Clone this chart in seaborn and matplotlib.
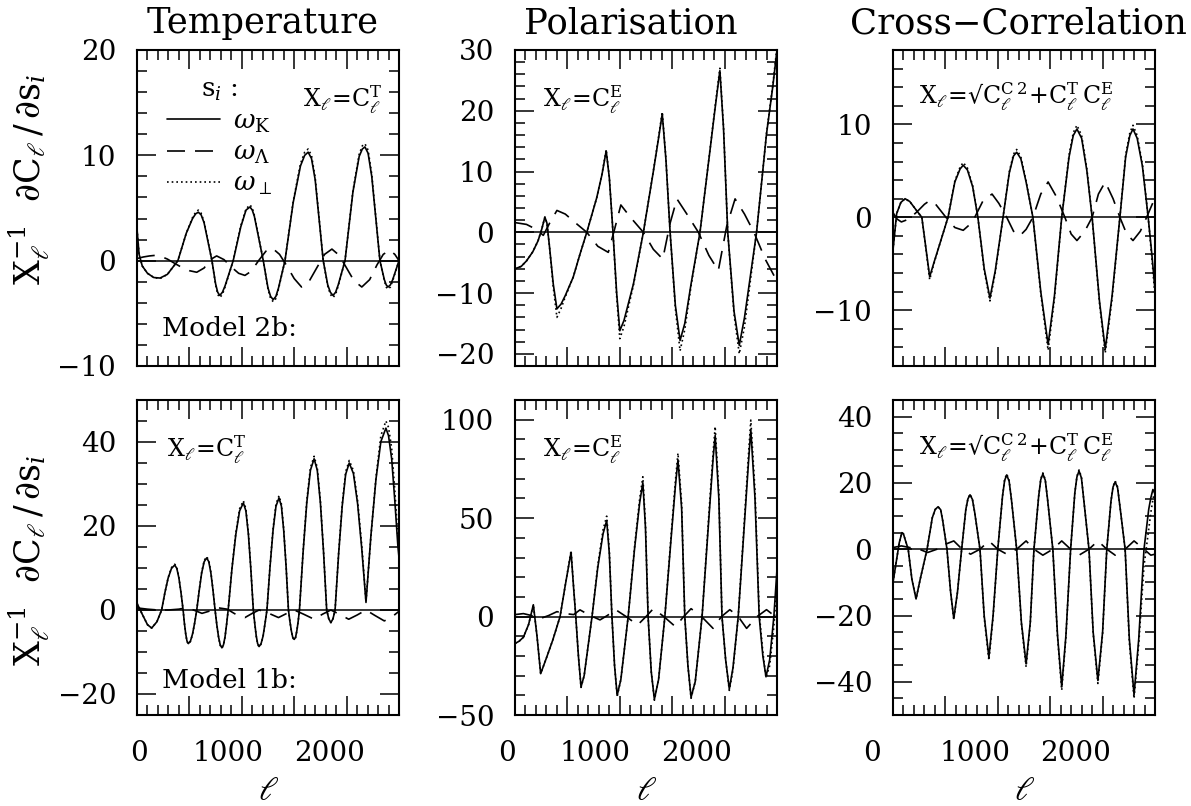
import matplotlib
matplotlib.use("Agg")
import matplotlib.pyplot as plt
import matplotlib.transforms as mtrans
from matplotlib.ticker import MultipleLocator
import seaborn as sns

# ---------------- data ----------------
# Top-left: Temperature, Model 2b
TL_lK = [0, 20, 50, 100, 160, 220, 290, 390, 470, 530, 560, 585, 612, 640, 715, 750, 770, 790, 815, 840, 918, 990, 1040, 1078, 1100, 1120, 1205, 1250, 1275, 1300, 1325, 1350, 1412, 1490, 1560, 1600, 1633, 1665, 1700, 1777, 1820, 1845, 1870, 1895, 1920, 1985, 2060, 2120, 2150, 2175, 2205, 2240, 2318, 2360, 2378, 2395, 2418, 2440, 2500]
TL_K = [3.0, 0.6, -0.5, -1.2, -1.6, -1.65, -1.3, 0.0, 2.6, 4.0, 4.45, 4.6, 4.35, 3.6, 0.0, -2.2, -3.0, -3.3, -3.0, -2.4, 0.0, 3.2, 4.8, 5.1, 4.8, 4.2, 0.0, -2.6, -3.4, -3.7, -3.4, -2.6, 0.0, 5.5, 9.0, 10.0, 10.3, 9.7, 7.7, 0.0, -2.3, -3.0, -3.3, -3.0, -2.3, 0.0, 6.5, 9.9, 10.6, 10.8, 10.2, 8.0, 0.0, -1.8, -2.3, -2.5, -2.3, -1.8, 0.0]
TL_P = [3.0, 0.6, -0.5, -1.2, -1.6, -1.7, -1.3, 0.0, 2.6, 4.1, 4.6, 4.8, 4.5, 3.7, 0.0, -2.3, -3.2, -3.5, -3.2, -2.5, 0.0, 3.3, 4.9, 5.3, 5.0, 4.3, 0.0, -2.7, -3.6, -3.9, -3.6, -2.7, 0.0, 5.6, 9.2, 10.3, 10.6, 10.0, 7.9, 0.0, -2.4, -3.2, -3.5, -3.2, -2.4, 0.0, 6.6, 10.1, 10.9, 11.1, 10.5, 8.2, 0.0, -1.9, -2.5, -2.7, -2.5, -1.9, 0.0]
TL_lL = [0, 60, 120, 170, 230, 290, 350, 420, 500, 570, 640, 700, 760, 830, 900, 970, 1030, 1090, 1160, 1230, 1290, 1360, 1430, 1500, 1570, 1640, 1720, 1790, 1860, 1930, 2000, 2070, 2145, 2220, 2290, 2350, 2410, 2460, 2500]
TL_L = [0.2, 0.35, 0.45, 0.5, 0.4, 0.15, -0.2, -0.6, -0.95, -1.1, -0.7, 0.1, 0.45, 0.1, -0.6, -1.2, -1.4, -1.0, 0.0, 0.9, 1.2, 0.6, -0.5, -1.7, -2.5, -2.0, -0.6, 0.6, 1.1, 0.5, -0.7, -1.9, -2.5, -1.8, -0.4, 0.6, 1.0, 0.6, 0.0]

# Top-middle: Polarisation, Model 2b
TM_lK = [0, 60, 110, 170, 220, 255, 285, 305, 330, 365, 400, 440, 480, 555, 620, 685, 780, 830, 870, 900, 935, 970, 1000, 1040, 1130, 1225, 1320, 1370, 1405, 1440, 1480, 1530, 1575, 1620, 1680, 1765, 1860, 1910, 1955, 1990, 2030, 2090, 2140, 2190, 2305, 2400, 2460, 2500]
TM_K = [-6.0, -5.6, -4.7, -3.2, -1.4, 0.5, 2.5, 1.5, -2.5, -8.5, -12.6, -11.8, -10.4, -7.4, -3.6, 0.0, 5.7, 9.5, 13.4, 9.0, 0.0, -10.0, -16.2, -14.5, -8.5, 0.0, 10.0, 15.5, 19.5, 12.0, 0.0, -12.0, -17.8, -15.0, -8.5, 0.0, 13.4, 20.5, 26.6, 17.0, 0.0, -13.0, -18.6, -14.0, 0.0, 16.2, 24.0, 30.0]
TM_P = [-6.0, -5.6, -4.7, -3.2, -1.4, 0.5, 2.5, 1.5, -2.5, -9.0, -14.0, -12.5, -10.6, -7.4, -3.6, 0.0, 5.7, 9.6, 13.6, 9.1, 0.0, -10.5, -17.5, -15.5, -8.7, 0.0, 10.1, 15.7, 19.8, 12.2, 0.0, -12.5, -19.5, -16.0, -8.8, 0.0, 13.5, 20.8, 27.0, 17.3, 0.0, -13.5, -20.0, -15.5, 0.0, 16.3, 24.2, 30.5]
TM_lL = [0, 110, 200, 270, 330, 400, 480, 560, 685, 790, 890, 950, 1010, 1100, 1225, 1320, 1410, 1480, 1545, 1640, 1750, 1850, 1940, 2020, 2100, 2190, 2280, 2390, 2480, 2500]
TM_L = [1.6, 1.3, 0.5, -0.5, 1.5, 3.6, 3.0, 1.8, 0.0, -2.3, -3.3, 0.5, 4.5, 2.5, 0.0, -2.8, -4.4, 1.5, 5.5, 3.0, 0.0, -3.8, -6.3, 1.0, 5.5, 3.0, 0.0, -4.5, -7.4, -7.6]

# Top-right: Cross-correlation, Model 2b
TR_lK = [0, 35, 75, 115, 160, 220, 275, 315, 350, 390, 440, 525, 590, 640, 670, 710, 760, 810, 870, 925, 975, 1050, 1110, 1150, 1180, 1220, 1270, 1335, 1410, 1480, 1540, 1610, 1680, 1720, 1755, 1800, 1850, 1900, 1970, 2025, 2090, 2165, 2220, 2260, 2290, 2330, 2380, 2435, 2470, 2500]
TR_K = [-3.5, 0.4, 1.6, 2.0, 1.7, 0.8, 0.0, -3.4, -6.4, -4.9, -3.1, 0.0, 3.8, 5.2, 5.6, 5.1, 3.3, 0.0, -5.5, -8.7, -5.8, 0.0, 4.8, 6.6, 7.0, 6.3, 3.8, 0.0, -8.0, -13.7, -8.5, 0.0, 6.5, 8.8, 9.5, 8.5, 5.0, 0.0, -9.0, -14.2, -8.5, 0.0, 6.5, 8.8, 9.5, 8.5, 5.5, 0.0, -4.0, -7.8]
TR_P = [-3.5, 0.4, 1.6, 2.0, 1.7, 0.8, 0.0, -3.5, -6.7, -5.0, -3.1, 0.0, 3.9, 5.4, 5.9, 5.3, 3.4, 0.0, -5.7, -9.0, -6.0, 0.0, 4.9, 6.8, 7.3, 6.5, 3.9, 0.0, -8.2, -14.3, -8.8, 0.0, 6.7, 9.1, 9.9, 8.8, 5.2, 0.0, -9.2, -14.6, -8.8, 0.0, 6.7, 9.1, 9.9, 8.8, 5.7, 0.0, -4.4, -8.5]
TR_lL = [0, 40, 80, 150, 230, 300, 350, 400, 505, 590, 670, 730, 780, 860, 945, 1010, 1085, 1150, 1210, 1270, 1335, 1410, 1480, 1560, 1640, 1700, 1755, 1830, 1900, 1960, 2025, 2100, 2165, 2230, 2290, 2360, 2420, 2500]
TR_L = [0.5, -0.2, -0.5, -0.2, 0.6, 1.4, 1.8, 1.5, 0.0, -1.1, -1.4, -0.8, 0.0, 1.8, 2.5, 1.5, 0.0, -1.5, -2.0, -1.3, 0.0, 2.5, 3.8, 2.2, 0.0, -1.8, -2.5, -1.5, 0.0, 2.5, 3.8, 2.0, 0.0, -1.8, -2.5, -1.5, 0.0, 2.1]

# Bottom-left: Temperature, Model 1b
BL_lK = [0, 50, 100, 140, 190, 235, 266, 297, 329, 360, 380, 400, 420, 440, 452, 465, 477, 490, 510, 530, 550, 570, 594, 617, 641, 665, 685, 705, 725, 745, 761, 778, 794, 810, 825, 840, 855, 870, 906, 943, 979, 1015, 1039, 1063, 1086, 1110, 1124, 1138, 1151, 1165, 1184, 1203, 1221, 1240, 1269, 1298, 1326, 1355, 1378, 1400, 1423, 1445, 1459, 1473, 1486, 1500, 1513, 1525, 1538, 1550, 1585, 1620, 1655, 1690, 1720, 1750, 1780, 1810, 1830, 1850, 1870, 1890, 1924, 1958, 1991, 2025, 2065, 2105, 2145, 2185, 2232, 2280, 2327, 2375, 2400, 2430, 2460, 2490, 2500]
BL_K = [1.6, -1.0, -3.5, -4.3, -2.8, 0.0, 4.1, 7.6, 9.9, 10.7, 9.9, 7.6, 4.1, 0.0, -3.1, -5.7, -7.4, -8.0, -7.4, -5.7, -3.1, 0.0, 4.7, 8.8, 11.5, 12.4, 11.5, 8.8, 4.7, 0.0, -3.4, -6.4, -8.3, -9.0, -8.3, -6.4, -3.4, 0.0, 9.8, 18.0, 23.6, 25.5, 23.6, 18.0, 9.8, 0.0, -3.3, -6.2, -8.0, -8.7, -8.0, -6.2, -3.3, 0.0, 10.2, 18.9, 24.7, 26.7, 24.7, 18.9, 10.2, 0.0, -2.7, -5.0, -6.5, -7.0, -6.5, -5.0, -2.7, 0.0, 13.8, 25.5, 33.3, 36.0, 33.3, 25.5, 13.8, 0.0, -2.1, -3.0, -2.1, 0.0, 13.4, 24.7, 32.3, 35.0, 32.5, 25.3, 14.5, 1.8, 17.7, 31.1, 40.1, 43.3, 41.5, 36.0, 26.0, 15.0, 12.5]
BL_P = [1.6, -1.0, -3.5, -4.3, -2.8, 0.0, 4.1, 7.7, 10.1, 10.9, 10.1, 7.7, 4.1, 0.0, -3.1, -5.8, -7.5, -8.1, -7.5, -5.8, -3.1, 0.0, 4.8, 9.0, 11.8, 12.7, 11.8, 9.0, 4.8, 0.0, -3.4, -6.5, -8.4, -9.1, -8.4, -6.5, -3.4, 0.0, 10.0, 18.4, 24.1, 26.0, 24.1, 18.4, 10.0, 0.0, -3.3, -6.3, -8.1, -8.8, -8.1, -6.3, -3.3, 0.0, 10.4, 19.3, 25.2, 27.2, 25.2, 19.3, 10.4, 0.0, -2.7, -5.0, -6.6, -7.1, -6.6, -5.0, -2.7, 0.0, 14.0, 26.0, 33.9, 36.6, 33.9, 26.0, 14.0, 0.0, -2.1, -3.0, -2.1, 0.0, 13.6, 25.2, 32.9, 35.6, 33.2, 26.0, 15.3, 2.0, 17.5, 31.5, 41.5, 45.0, 43.5, 38.5, 28.5, 17.0, 14.5]
BL_lL = [0, 100, 200, 300, 400, 460, 540, 620, 700, 780, 860, 940, 1030, 1100, 1165, 1240, 1350, 1430, 1500, 1590, 1690, 1770, 1850, 1930, 2020, 2100, 2185, 2270, 2360, 2440, 2500]
BL_L = [0.5, 0.2, 0.0, 0.0, 0.2, 0.5, 0.0, -0.8, -0.2, 0.5, 0.2, -1.0, -1.8, -0.8, 0.0, -0.6, -1.8, -0.8, 0.0, -1.0, -2.2, -1.0, 0.0, -1.0, -2.2, -1.2, 0.0, -1.3, -2.6, -1.5, -0.3]

# Bottom-middle: Polarisation, Model 1b
BM_lK = [0, 40, 80, 130, 175, 210, 245, 300, 360, 430, 480, 535, 560, 580, 605, 630, 660, 735, 790, 840, 875, 900, 925, 950, 975, 1010, 1080, 1140, 1190, 1220, 1245, 1270, 1300, 1330, 1370, 1430, 1490, 1530, 1555, 1590, 1620, 1650, 1680, 1720, 1785, 1850, 1890, 1910, 1945, 1975, 2010, 2045, 2080, 2130, 2190, 2230, 2250, 2290, 2330, 2365, 2395, 2430, 2470, 2500]
BM_K = [-13.7, -12.5, -10.5, -4.0, 6.0, -10.0, -29.0, -21.0, -12.0, 0.0, 16.0, 32.7, 14.0, 0.0, -20.0, -35.7, -30.0, 0.0, 25.0, 42.0, 48.8, 32.0, 0.0, -25.0, -40.0, -32.0, 0.0, 34.0, 58.0, 68.0, 45.0, 0.0, -28.0, -42.0, -32.0, 0.0, 40.0, 66.0, 79.6, 55.0, 0.0, -25.0, -41.0, -33.0, 0.0, 50.0, 80.0, 92.0, 60.0, 0.0, -22.0, -36.8, -26.0, 0.0, 48.0, 80.0, 95.0, 60.0, 0.0, -20.0, -30.6, -22.0, 0.0, 24.0]
BM_P = [-13.7, -12.5, -10.5, -4.0, 6.0, -10.0, -29.0, -21.0, -12.0, 0.0, 16.0, 33.5, 14.5, 0.0, -20.0, -36.0, -30.0, 0.0, 26.0, 44.0, 51.0, 33.5, 0.0, -25.0, -40.5, -32.0, 0.0, 35.0, 60.0, 71.0, 47.0, 0.0, -28.0, -42.5, -32.0, 0.0, 41.5, 68.5, 83.0, 57.5, 0.0, -25.0, -41.5, -33.0, 0.0, 52.0, 83.0, 96.5, 63.0, 0.0, -22.0, -37.5, -27.0, 0.0, 50.0, 84.0, 99.8, 64.0, 2.0, -18.0, -31.0, -25.0, -5.0, 17.0]
BM_lL = [0, 80, 160, 240, 320, 400, 480, 560, 620, 700, 811, 880, 960, 1060, 1170, 1250, 1320, 1420, 1530, 1610, 1680, 1780, 1890, 1970, 2050, 2130, 2210, 2310, 2400, 2460, 2500]
BM_L = [1.0, 1.5, 0.5, -1.0, 0.5, 2.5, 1.5, 1.0, 3.4, 1.0, -1.7, 0.5, 3.5, 0.0, -4.3, 0.0, 4.0, 0.0, -5.1, 0.0, 4.0, 0.0, -6.0, 0.0, 3.5, 0.0, -6.0, 0.0, 3.5, 1.0, -1.0]

# Bottom-right: Cross-correlation, Model 1b
BR_lK = [0, 40, 60, 85, 100, 115, 145, 180, 220, 260, 325, 375, 403, 430, 455, 475, 515, 550, 580, 615, 655, 695, 715, 735, 758, 780, 830, 870, 915, 955, 1000, 1045, 1065, 1085, 1108, 1130, 1180, 1225, 1270, 1310, 1345, 1390, 1410, 1430, 1453, 1475, 1525, 1570, 1610, 1650, 1695, 1735, 1755, 1775, 1798, 1820, 1870, 1910, 1955, 2000, 2040, 2080, 2100, 2120, 2143, 2165, 2215, 2255, 2300, 2345, 2395, 2440, 2460, 2480, 2500]
BR_K = [-10.0, -2.0, 2.0, 5.0, 4.6, 3.0, 0.0, -9.0, -15.0, -9.0, 0.0, 9.5, 12.0, 12.8, 11.9, 8.5, 0.0, -13.0, -20.9, -13.0, 0.0, 12.0, 15.2, 16.4, 15.0, 11.0, 0.0, -20.0, -32.6, -20.0, 0.0, 16.0, 20.7, 22.4, 20.5, 15.0, 0.0, -22.0, -34.6, -22.0, 0.0, 16.0, 21.0, 22.7, 20.8, 15.0, 0.0, -26.0, -41.5, -26.0, 0.0, 17.0, 21.8, 23.6, 21.5, 15.0, 0.0, -25.0, -39.6, -25.0, 0.0, 14.5, 18.8, 20.3, 18.5, 13.0, 0.0, -27.0, -43.9, -27.0, 0.0, 12.0, 15.5, 18.0, 17.0]
BR_P = [-10.0, -2.0, 2.0, 5.0, 4.6, 3.0, 0.0, -9.0, -15.0, -9.0, 0.0, 9.5, 12.0, 12.8, 11.9, 8.5, 0.0, -13.0, -21.2, -13.0, 0.0, 12.0, 15.3, 16.6, 15.1, 11.0, 0.0, -20.5, -33.5, -20.5, 0.0, 16.0, 21.0, 22.7, 20.8, 15.0, 0.0, -22.5, -35.5, -22.5, 0.0, 16.0, 21.2, 23.0, 21.0, 15.0, 0.0, -26.5, -42.5, -26.5, 0.0, 17.0, 22.0, 23.9, 21.8, 15.0, 0.0, -25.5, -40.5, -25.5, 0.0, 14.5, 19.0, 20.6, 18.8, 13.0, 0.0, -28.0, -45.0, -28.5, -5.0, 6.0, 11.0, 15.0, 18.0]
BR_lL = [0, 80, 160, 250, 330, 420, 500, 580, 660, 740, 830, 915, 1000, 1085, 1180, 1270, 1345, 1430, 1525, 1610, 1695, 1775, 1870, 1955, 2040, 2120, 2215, 2300, 2395, 2460, 2500]
BR_L = [0.5, 1.0, 0.5, 0.0, -1.0, 0.0, 1.5, 2.5, 0.0, -1.5, 0.0, 2.5, 0.0, -1.5, 0.0, 2.5, 0.0, -1.8, 0.0, 2.5, 0.0, -1.8, 0.0, 2.5, 0.0, -1.8, 0.0, 2.5, 0.0, -1.8, -1.5]

titles = ["Temperature", "Polarisation", "Cross\u2212Correlation"]
ylims = [(-10, 20), (-22, 30), (-16, 18), (-25, 50), (-50, 110), (-50, 45)]
ymajor = [10, 10, 10, 20, 50, 20]
yminor = [2, 2, 2, 5, 10, 5]
xtick_vals = [0, 500, 1000, 1500, 2000, 2500]
xtick_text = ["0", "", "1000", "", "2000", ""]
models = ["Model 2b:", "Model 1b:"]
xl_T = r"$\mathrm{X}_\ell\!=\!\mathrm{C}_\ell^\mathrm{T}$"
xl_E = r"$\mathrm{X}_\ell\!=\!\mathrm{C}_\ell^\mathrm{E}$"
xl_C = "$\\mathrm{X}_\\ell\\!=\\!\u221a\\mathrm{C}_\\ell^{\\mathrm{C}\\,2}\\!+\\!\\mathrm{C}_\\ell^\\mathrm{T}\\,\\mathrm{C}_\\ell^\\mathrm{E}$"
leg_labels = [r"$\omega_\mathrm{K}$", r"$\omega_\Lambda$", r"$\omega_\perp$"]
leg_title = r"$\mathrm{s}_i$ :"

panels = [
    (TL_lK, TL_K, TL_P, TL_lL, TL_L),
    (TM_lK, TM_K, TM_P, TM_lL, TM_L),
    (TR_lK, TR_K, TR_P, TR_lL, TR_L),
    (BL_lK, BL_K, BL_P, BL_lL, BL_L),
    (BM_lK, BM_K, BM_P, BM_lL, BM_L),
    (BR_lK, BR_K, BR_P, BR_lL, BR_L),
]
annots = [
    (xl_T, 0.634, 0.842), (xl_E, 0.107, 0.842), (xl_C, 0.10, 0.851),
    (xl_T, 0.115, 0.841), (xl_E, 0.107, 0.841), (xl_C, 0.10, 0.848),
]

# ---------------- style ----------------
sns.set_style("ticks")
plt.rcParams['font.family'] = ['DejaVu Serif']
plt.rcParams['mathtext.fontset'] = 'dejavuserif'
plt.rcParams['axes.linewidth'] = 1.5
for key in ["text.color", "axes.labelcolor", "xtick.color", "ytick.color",
            "axes.edgecolor", "xtick.labelcolor", "ytick.labelcolor"]:
    plt.rcParams[key] = "black"

W, H = 1191, 806
fig = plt.figure(figsize=(W / 100, H / 100), dpi=100)
fig.patch.set_facecolor("white")

col_left = [137, 515, 893]
row_top = [(50, 366), (400, 715)]
pw = 262

DASH = (0, (10.8, 6.0))
DOT = (0, (1.0, 1.8))
LW = 1.2

xlab_off = [[2, -14, -17], [-8, -25, -28], [-21, -23, -27]]
title_x = [0.48, 0.443, 0.477]

for i, (lK, K, P, lL, L) in enumerate(panels):
    r, c = divmod(i, 3)
    t, b = row_top[r]
    ax = fig.add_axes([col_left[c] / W, 1 - b / H, pw / W, (b - t) / H])
    ax.set_facecolor("white")
    sns.lineplot(x=lK, y=P, ax=ax, color="black", lw=LW, linestyle=DOT,
                 estimator=None, sort=False, legend=False)
    h_dot = ax.lines[-1]
    sns.lineplot(x=lL, y=L, ax=ax, color="black", lw=LW, linestyle=DASH,
                 estimator=None, sort=False, legend=False)
    h_dash = ax.lines[-1]
    sns.lineplot(x=lK, y=K, ax=ax, color="black", lw=LW, linestyle="-",
                 estimator=None, sort=False, legend=False)
    h_sol = ax.lines[-1]
    for ln in (h_dot, h_dash, h_sol):
        ln.set_solid_joinstyle("round")
        ln.set_dash_joinstyle("round")
    ax.axhline(0, color="black", lw=1.1)

    ax.set_xlim(0, 2500)
    ax.set_ylim(*ylims[i])
    ax.yaxis.set_major_locator(MultipleLocator(ymajor[i]))
    ax.yaxis.set_minor_locator(MultipleLocator(yminor[i]))
    ax.set_xticks(xtick_vals)
    ax.xaxis.set_minor_locator(MultipleLocator(100))
    ax.tick_params(which="both", direction="in", top=True, right=True,
                   width=1.1, color="black")
    ax.tick_params(which="major", length=14)
    ax.tick_params(which="minor", length=7)
    ax.tick_params(axis="y", labelsize=20, pad=15, labelcolor="black")
    ax.tick_params(axis="x", labelsize=20, pad=18, labelcolor="black")
    for s in ax.spines.values():
        s.set_linewidth(1.5)
        s.set_color("black")

    if r == 0:
        ax.set_xticklabels([""] * len(xtick_vals))
        ax.set_title(titles[c], fontsize=25.5, pad=12, x=title_x[c], color="black")
    else:
        ax.set_xticklabels(xtick_text)
        offs = xlab_off[c]
        k = 0
        for lab, txt in zip(ax.get_xticklabels(), xtick_text):
            if txt:
                lab.set_transform(lab.get_transform() +
                                  mtrans.ScaledTranslation(offs[k] / 100, 0, fig.dpi_scale_trans))
                k += 1
        ax.set_xlabel(r"$\ell$", fontsize=24, labelpad=6, color="black")
    if c == 0:
        ax.set_ylabel(r"$\mathrm{X}_\ell^{-1}\ \ \partial\mathrm{C}_\ell\,/\,\partial\mathrm{s}_i$",
                      fontsize=25, color="black")
        ax.yaxis.set_label_coords(-0.33, 0.59 if r == 0 else 0.49)
        ax.text(0.095, 0.12 if r == 0 else 0.11, models[r], transform=ax.transAxes,
                fontsize=19, ha="left", va="center", color="black")
    else:
        ax.set_ylabel("")

    s, xa, ya = annots[i]
    ax.text(xa, ya, s, transform=ax.transAxes, fontsize=17, ha="left", va="center",
            color="black")

    if i == 0:
        leg = ax.legend([h_sol, h_dash, h_dot], leg_labels, title=leg_title,
                        loc="upper left", bbox_to_anchor=(0.115, 0.915),
                        frameon=False, fontsize=19, title_fontsize=19,
                        handlelength=2.0, handletextpad=0.5, labelspacing=0.2,
                        borderpad=0, borderaxespad=0)
        for tx in leg.get_texts():
            tx.set_color("black")
        leg.get_title().set_color("black")

fig.savefig("out.png", dpi=100, facecolor="white")
